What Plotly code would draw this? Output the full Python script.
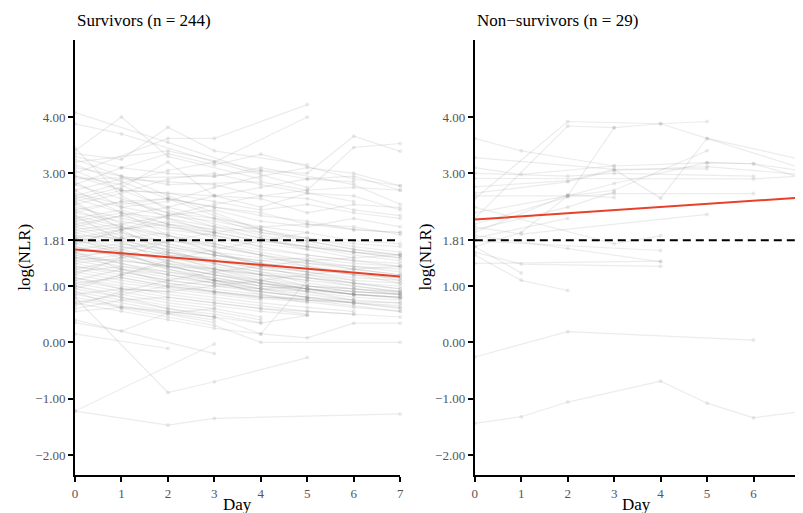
import plotly.graph_objects as go

# ---------------- data ----------------
days = [0, 1, 2, 3, 4, 5, 6, 7]

survivors = [
    [4.08, None, 3.55, None, 3.00, None, None, None],
    [3.88, 3.70, None, 3.20, None, 2.75, None, None],
    [3.40, 4.00, 3.30, None, 2.90, None, None, None],
    [3.35, 3.25, 3.82, 3.40, None, 3.15, None, None],
    [3.00, None, 3.62, 3.62, None, 4.22, None, None],
    [2.60, None, 3.05, 3.20, None, 4.00, None, None],
    [3.30, 3.10, 3.35, 3.15, 3.34, None, 2.90, 2.78],
    [2.90, None, None, 2.95, 3.05, 3.00, 3.66, 3.39],
    [3.10, 2.95, 2.80, None, 2.85, 2.70, 3.46, 3.53],
    [3.20, None, 3.40, None, 3.05, 2.90, 2.95, 2.70],
    [2.80, 3.10, 3.00, 2.95, 3.10, None, 2.80, 2.45],
    [3.05, 2.70, None, 2.60, 2.55, 2.30, 2.45, 2.39],
    [2.70, 2.90, 2.85, 2.80, 2.60, 2.55, 2.35, 2.25],
    [3.25, 2.95, 2.60, 2.30, 2.00, None, None, None],
    [2.95, 2.80, 2.35, 2.10, 1.90, 1.75, 1.60, 1.55],
    [3.45, 2.60, 2.20, 1.95, None, None, None, None],
    [2.55, 2.75, 3.20, 2.60, 2.40, 2.65, 2.50, None],
    [2.45, 2.65, 2.90, 3.00, 2.80, 2.65, 2.60, 2.35],
    [2.30, 2.50, 2.55, 2.40, 2.30, 2.10, 2.05, 1.91],
    [2.85, 2.40, 2.50, 2.75, 2.95, 3.10, 3.00, 2.78],
    [2.40, 2.20, 2.05, 1.95, 1.80, 1.70, 1.55, 1.45],
    [2.20, 2.35, 2.10, 1.85, 1.70, None, None, None],
    [2.10, 1.90, 1.80, 1.75, 1.55, 1.40, 1.30, 1.20],
    [2.55, 2.30, 2.10, 2.00, None, None, None, None],
    [2.00, 2.10, 2.25, 2.15, 2.00, 1.85, 1.70, 1.60],
    [1.95, 1.75, 1.60, 1.45, 1.30, 1.20, 1.05, 0.95],
    [2.25, 2.05, 1.85, 1.60, 1.40, 1.25, 1.10, None],
    [2.35, 2.50, 2.30, 2.20, 2.05, 1.95, 1.80, 1.75],
    [1.85, 1.70, 1.55, 1.50, 1.35, 1.25, None, None],
    [2.15, 1.95, 1.70, 1.55, 1.45, 1.35, 1.25, 1.10],
    [2.05, 2.25, 2.40, 2.20, 1.95, 1.80, 1.65, 1.55],
    [1.90, 1.85, 1.95, 1.80, 1.65, 1.55, 1.45, 1.40],
    [2.60, 2.40, 2.25, 2.35, 2.15, 2.05, 2.20, 2.05],
    [2.20, 2.00, 2.15, 2.00, 1.85, 1.65, 1.50, None],
    [1.80, 1.95, 1.75, 1.60, 1.50, 1.40, 1.35, 1.25],
    [2.45, 2.10, 1.90, 1.70, 1.55, 1.35, 1.20, 1.05],
    [2.00, 1.80, 1.65, 1.40, 1.25, 1.05, 0.95, 0.85],
    [2.30, 2.15, 2.00, 1.90, 1.75, 1.65, None, None],
    [1.85, 2.00, 2.10, 1.95, 1.80, 1.70, 1.60, 1.50],
    [2.10, 2.25, 2.05, 1.90, 1.70, 1.55, 1.45, 1.35],
    [1.75, 1.60, 1.50, 1.35, 1.20, 1.10, 1.00, 0.90],
    [1.65, 1.55, 1.40, 1.25, 1.10, 0.95, 0.85, 0.80],
    [1.60, 1.70, 1.55, 1.45, 1.35, 1.25, 1.15, 1.10],
    [1.55, 1.40, 1.25, 1.10, 0.95, 0.85, 0.75, None],
    [1.70, 1.50, 1.30, 1.15, 1.00, 0.90, 0.80, 0.75],
    [1.50, 1.45, 1.35, 1.30, 1.20, 1.15, 1.05, 1.00],
    [1.45, 1.30, 1.15, 1.05, 0.95, 0.90, None, None],
    [1.40, 1.50, 1.60, 1.45, 1.30, 1.20, 1.10, 1.05],
    [1.80, 1.65, 1.45, 1.25, 1.05, 0.90, 0.75, 0.70],
    [1.35, 1.20, 1.05, 0.95, 0.85, 0.75, 0.65, 0.55],
    [1.30, 1.15, 1.00, 0.90, 0.80, 0.78, 0.70, None],
    [1.25, 1.35, 1.25, 1.15, 1.00, 0.95, 0.85, 0.80],
    [1.20, 1.05, 0.95, 0.85, 0.75, None, None, None],
    [1.15, 1.00, 0.85, 0.75, 0.65, 0.55, 0.50, None],
    [1.10, 0.95, 0.80, 0.70, 0.60, 0.50, None, None],
    [1.05, 0.90, 0.75, 0.65, 0.55, 0.48, None, None],
    [1.00, 0.85, 0.70, 0.60, 0.45, None, None, None],
    [0.95, 0.80, 0.65, 0.55, 0.40, None, None, None],
    [0.90, 0.75, 0.60, 0.50, 0.35, None, None, None],
    [0.85, 0.70, 0.55, 0.45, None, None, None, None],
    [0.80, 0.65, 0.52, 0.40, None, None, None, None],
    [0.75, 0.62, 0.50, 0.35, None, None, None, None],
    [1.60, 1.40, 1.20, 1.05, 0.90, 0.80, 0.70, 0.60],
    [1.70, 1.55, 1.35, 1.20, 1.05, 0.95, 0.85, None],
    [1.50, 1.35, 1.20, 1.10, 1.00, 0.92, 0.85, 0.80],
    [1.45, 1.55, 1.50, 1.40, 1.25, 1.15, 1.05, 0.95],
    [1.35, 1.25, 1.10, 1.00, 0.90, 0.80, None, None],
    [1.25, 1.10, 0.98, 0.88, 0.78, 0.72, 0.62, 0.55],
    [1.55, 1.60, 1.45, 1.30, 1.15, 1.00, 0.90, 0.85],
    [1.65, 1.75, 1.65, 1.55, 1.40, 1.30, 1.20, 1.15],
    [0.35, 0.20, 0.52, 0.60, None, None, None, None],
    [0.15, None, -0.11, None, None, None, None, None],
    [0.80, None, -0.89, -0.70, None, -0.27, None, None],
    [-1.22, None, None, -0.03, None, None, None, None],
    [-1.22, None, -1.47, -1.35, None, None, None, -1.27],
    [0.90, 0.60, 0.45, 0.30, 0.00, None, None, 0.00],
    [0.70, 0.55, 0.40, 0.25, 0.15, 0.08, 0.34, 0.34],
    [0.40, None, None, -0.20, None, None, None, None],
    [1.00, 0.80, 0.60, 0.45, 0.34, 0.48, None, None],
    [0.55, 0.62, 0.55, 0.45, 0.15, 1.10, None, None],
    [2.50, 2.00, 1.60, 1.40, 1.20, 1.00, 0.90, 0.85],
    [1.20, 1.50, 1.80, 1.70, 1.55, 1.45, 1.30, 1.20],
    [0.95, 1.20, 1.40, 1.30, 1.20, 1.10, None, None],
    [2.70, 2.30, 1.90, 1.60, 1.35, 1.15, 1.00, 0.90],
    [1.90, 1.60, 1.30, 1.10, 0.95, 0.80, 0.70, 0.62],
    [0.65, 0.90, 1.10, 1.25, 1.35, 1.45, 1.50, 1.55],
    [1.10, 1.30, 1.20, 1.05, 0.90, 0.80, 0.75, None],
    [2.25, 1.80, 1.40, 1.10, 0.85, 0.70, None, None],
    [1.75, 1.85, 1.70, 1.55, 1.45, 1.50, 1.40, 1.35],
    [1.40, 1.25, 1.10, 1.00, 0.95, 1.00, 0.95, 0.90],
    [2.80, 2.55, 2.30, 2.05, 1.85, 1.70, 1.60, 1.50],
    [1.95, 2.05, 1.90, 1.75, 1.60, 1.45, 1.35, 1.30],
    [1.30, 1.45, 1.35, 1.20, 1.05, 0.95, 0.85, 0.78],
    [0.85, 0.95, 0.90, 0.80, 0.70, 0.62, 0.55, None],
    [1.60, 1.30, 1.05, 0.90, 0.80, 0.75, 0.72, 0.70],
    [2.15, 2.30, 2.20, 2.05, 1.95, 1.85, 1.75, 1.70],
    [1.05, 1.15, 1.00, 0.90, 0.82, 0.75, 0.70, 0.65],
    [2.35, 2.05, 1.75, 1.55, 1.40, 1.30, 1.20, 1.15],
    [1.85, 1.55, 1.35, 1.20, 1.10, 1.00, 0.95, 0.88],
    [0.60, 0.75, 0.80, 0.70, 0.60, 0.55, 0.50, 0.45],
    [1.50, 1.65, 1.80, 1.95, 2.05, 2.10, 2.00, 1.95],
    [2.65, 2.45, 2.55, 2.40, 2.25, 2.15, 2.00, 1.95],
    [1.15, 0.95, 0.90, 1.00, 1.10, 1.20, 1.30, 1.35],
    [2.05, 1.85, 1.55, 1.30, 1.10, 0.95, 0.85, 0.80],
    [3.15, 2.85, 2.55, 2.25, 2.00, 1.80, 1.65, 1.55],
    [1.75, 2.00, 2.25, 2.45, 2.60, 2.70, 2.75, 2.70],
    [0.70, 0.85, 1.00, 1.10, 1.05, 0.95, 0.90, 0.85],
    [2.95, 2.70, 2.40, 2.60, 2.75, 2.90, 2.85, None],
    [1.00, 1.20, 1.45, 1.65, 1.80, 1.95, None, None],
    [2.50, 2.70, 2.65, 2.50, 2.35, 2.45, 2.30, 2.20],
]

non_survivors = [
    [3.62, 3.40, None, 3.13, None, 3.19, 3.17, 2.93],
    [2.55, None, 3.92, None, 3.88, 3.92, None, None],
    [2.20, None, 3.84, 3.81, 3.88, 3.62, None, 3.25],
    [1.70, 1.95, 2.60, 3.81, None, None, None, None],
    [3.28, None, None, 3.07, None, 3.08, None, None],
    [3.10, 2.98, None, 3.13, None, None, None, None],
    [2.91, None, None, None, None, None, 2.90, 2.95],
    [2.76, None, 2.87, 3.07, 2.56, 3.62, None, 3.10],
    [2.60, None, 2.60, 2.82, None, 3.19, 3.17, 3.05],
    [2.10, None, 2.58, 2.64, None, None, 2.64, None],
    [1.95, None, 2.62, 2.57, None, None, None, None],
    [2.05, 1.92, None, None, None, 2.27, None, None],
    [2.40, None, None, 1.75, 1.89, None, None, None],
    [1.90, None, 1.67, None, 1.43, None, None, None],
    [1.40, None, None, None, 1.44, None, None, None],
    [1.55, 1.10, 0.92, None, None, None, None, None],
    [1.70, 1.23, None, None, None, None, None, None],
    [1.60, 1.39, None, None, 1.35, None, None, None],
    [1.80, None, None, None, 1.63, None, None, None],
    [-0.26, None, 0.19, None, None, None, 0.04, None],
    [-1.44, -1.32, -1.06, None, -0.69, -1.08, -1.34, -1.23],
    [2.65, None, 2.85, 3.05, None, 3.12, None, 2.98],
    [2.30, None, 2.60, 2.70, None, 3.40, None, None],
    [2.00, None, 2.40, 2.67, None, None, None, None],
    [1.85, None, 2.20, None, None, None, None, None],
    [3.00, None, 2.95, 3.00, None, None, 2.95, None],
]

surv_fit = [1.65, 1.17]       # fitted values at day 0 and day 7
nonsurv_fit = [2.18, 2.57]
fit_days = [0, 7]
threshold = 1.81

ytick_vals = [-2, -1, 0, 1, 1.81, 3, 4]
ytick_text = ["\u22122.00", "\u22121.00", "0.00", "1.00", "1.81", "3.00", "4.00"]
xtick_vals = [0, 1, 2, 3, 4, 5, 6, 7]

# ---------------- figure ----------------
# the page body adds an 8px offset; all targets below are window pixels.
OFF = 8
W, H = 800, 513 - OFF
ML, MT, MB = 75 - OFF, 40 - OFF, 513 - 475
MR = W - (804 - OFF)
pw = W - ML - MR
ph = H - MT - MB

def px_x(p):
    return (p - OFF - ML) / pw

def px_y(p):
    return (H - MB - (p - OFF)) / ph

FONT = "Liberation Serif, Times New Roman, serif"
GREY_LINE = "rgba(140,140,140,0.17)"

fig = go.Figure()

def add_group(data, xa, ya):
    for row in data:
        xs = [d for d, v in zip(days, row) if v is not None]
        ys = [v for v in row if v is not None]
        fig.add_trace(go.Scatter(
            x=xs, y=ys, mode="lines+markers", xaxis=xa, yaxis=ya,
            line=dict(color=GREY_LINE, width=1.2),
            marker=dict(color=GREY_LINE, size=4),
            showlegend=False, hoverinfo="skip", cliponaxis=False))

add_group(survivors, "x", "y")
add_group(non_survivors, "x2", "y2")

for xa, ya in (("x", "y"), ("x2", "y2")):
    fig.add_trace(go.Scatter(
        x=fit_days, y=[threshold, threshold], mode="lines", xaxis=xa, yaxis=ya,
        line=dict(color="black", width=2, dash="8px,5px"),
        showlegend=False, hoverinfo="skip"))

fig.add_trace(go.Scatter(x=fit_days, y=surv_fit, mode="lines", xaxis="x", yaxis="y",
                         line=dict(color="#e8402a", width=2), showlegend=False))
fig.add_trace(go.Scatter(x=fit_days, y=nonsurv_fit, mode="lines", xaxis="x2", yaxis="y2",
                         line=dict(color="#e8402a", width=2), showlegend=False))

x_common = dict(range=[0, 7], tickmode="array", tickvals=xtick_vals,
                ticks="outside", ticklen=5, tickwidth=1.5, tickcolor="black",
                showline=True, linecolor="black", linewidth=2,
                showgrid=False, zeroline=False, ticklabeloverflow="allow",
                tickfont=dict(family=FONT, size=13, color="#555555"))
y_common = dict(range=[-2.355, 5.367], tickmode="array", tickvals=ytick_vals,
                ticktext=ytick_text,
                ticks="outside", ticklen=5, tickwidth=1.5, tickcolor="black",
                showline=True, linecolor="black", linewidth=2,
                showgrid=False, zeroline=False,
                tickfont=dict(family=FONT, size=13, color="#555555"))

left_dom = [0, px_x(402)]
right_dom = [px_x(477), 1.0]

fig.update_layout(
    width=W, height=H,
    margin=dict(l=ML, r=MR, t=MT, b=MB),
    paper_bgcolor="white", plot_bgcolor="white",
    font=dict(family=FONT),
    xaxis=dict(domain=left_dom, anchor="y", **x_common),
    yaxis=dict(domain=[0, 1], anchor="x", **y_common),
    xaxis2=dict(domain=right_dom, anchor="y2", **x_common),
    yaxis2=dict(domain=[0, 1], anchor="x2", **y_common),
)

ann = []
ann.append(dict(text="Survivors (n = 244)", x=px_x(75), y=px_y(21)))
ann.append(dict(text="Non\u2212survivors (n = 29)", x=px_x(477), y=px_y(21)))
for a in ann:
    a.update(xref="paper", yref="paper", xanchor="left", yanchor="middle",
             showarrow=False, font=dict(family=FONT, size=17, color="black"))
for cx in (px_x(23.5), px_x(426.5)):
    ann.append(dict(text="log(NLR)", x=cx, y=px_y(257), xref="paper", yref="paper",
                    textangle=-90, xanchor="center", yanchor="middle", showarrow=False,
                    font=dict(family=FONT, size=17, color="black")))
for cx in (px_x(238.5), px_x(640)):
    ann.append(dict(text="Day", x=cx, y=px_y(504), xref="paper", yref="paper",
                    xanchor="center", yanchor="middle", showarrow=False,
                    font=dict(family=FONT, size=17, color="black")))
fig.update_layout(annotations=ann)

fig.write_html(
    "out.html",
    post_script="document.documentElement.style.overflow='hidden';"
                "document.body.style.overflow='hidden';",
)
